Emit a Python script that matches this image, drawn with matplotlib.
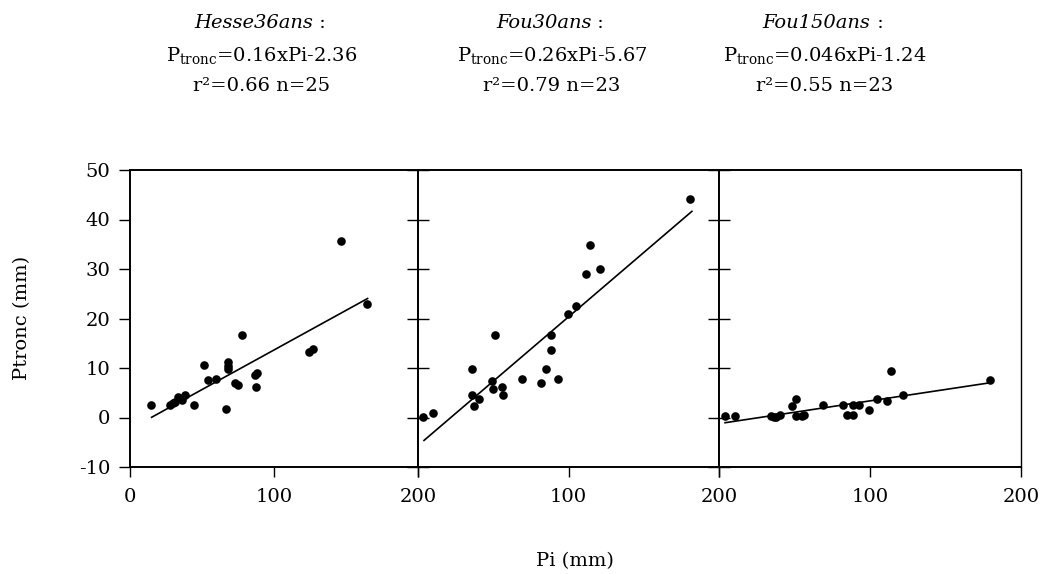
import matplotlib
matplotlib.use("Agg")
import matplotlib.pyplot as plt
import numpy as np

plt.rcParams['font.family'] = ['DejaVu Serif']
plt.rcParams['mathtext.fontset'] = 'dejavuserif'
plt.rcParams['axes.unicode_minus'] = False

# Hesse36ans
pi_hesse = [14.3, 27.6, 29.9, 31.0, 33.3, 36.1, 37.9, 44.6, 51.3, 54.0, 59.8, 66.7,
            67.8, 67.8, 68.2, 73.1, 74.7, 77.7, 86.9, 88.5, 87.4, 124.1, 126.9, 146.4, 164.4]
pt_hesse = [2.6, 2.6, 3.0, 3.2, 4.1, 3.5, 4.6, 2.6, 10.6, 7.5, 7.8, 1.8,
            11.3, 9.8, 10.4, 7.0, 6.6, 16.6, 8.6, 9.0, 6.1, 13.3, 13.8, 35.7, 22.9]

# Fou30ans
pi_fou30 = [3.6, 10.2, 35.6, 35.6, 36.9, 40.7, 49.0, 50.1, 51.4, 55.7, 56.8, 68.8,
            82.0, 84.8, 88.6, 88.6, 92.9, 99.5, 104.9, 111.4, 114.0, 120.7, 180.8]
pt_fou30 = [0.1, 1.0, 9.8, 4.6, 2.3, 3.8, 7.3, 5.7, 16.6, 6.1, 4.6, 7.8,
            7.0, 9.8, 16.6, 13.7, 7.8, 20.9, 22.6, 28.9, 34.9, 30.1, 44.1]

# Fou150ans
pi_fou150 = [3.8, 10.3, 34.7, 36.3, 38.0, 40.2, 48.4, 50.8, 50.8, 55.0, 56.0, 69.2,
             82.4, 84.6, 89.0, 89.0, 93.0, 99.5, 104.8, 111.4, 114.0, 121.9, 179.8]
pt_fou150 = [0.3, 0.3, 0.3, 0.1, 0.1, 0.6, 2.3, 3.8, 0.3, 0.3, 0.6, 2.6,
             2.6, 0.6, 0.6, 2.6, 2.6, 1.5, 3.8, 3.4, 9.4, 4.6, 7.5]

names = ["Hesse36ans", "Fou30ans", "Fou150ans"]
slopes = [0.16, 0.26, 0.046]
intercepts = [-2.36, -5.67, -1.24]
r2 = [0.66, 0.79, 0.55]
n = [25, 23, 23]
fit_range = [(15, 165), (4, 182), (4, 180)]
xs = [pi_hesse, pi_fou30, pi_fou150]
ys = [pt_hesse, pt_fou30, pt_fou150]

fig = plt.figure(figsize=(10.45, 5.74), dpi=100)
W, H = 1045, 574
lefts = [130, 418, 719]
rights = [418, 719, 1021]
bottom = 1 - 467 / H
height = (467 - 170) / H
title_x = [262, 552, 825]

for i in range(3):
    ax = fig.add_axes([lefts[i] / W, bottom, (rights[i] - lefts[i]) / W, height])
    ax.plot(xs[i], ys[i], 'o', color='black', ms=6.2, mew=0)
    x0, x1 = fit_range[i]
    fx = np.array([x0, x1])
    ax.plot(fx, slopes[i] * fx + intercepts[i], color='black', lw=1.2)
    ax.set_xlim(0, 200)
    ax.set_ylim(-10, 50)
    ax.set_xticks([0, 100, 200])
    ax.set_yticks(range(-10, 51, 10))
    if i == 0:
        ax.set_xticklabels(["0", "100", "200"])
        ax.tick_params(axis='y', direction='out', length=8, width=1, labelsize=14, pad=6)
    else:
        ax.set_xticklabels(["", "100", "200"])
        ax.set_yticklabels([])
        ax.tick_params(axis='y', direction='inout', length=16, width=1)
    ax.tick_params(axis='x', direction='out', length=7, width=1, labelsize=14, pad=8)
    for s in ax.spines.values():
        s.set_linewidth(1.4)
        s.set_color('black')
    if i == 2:
        ax.spines['right'].set_linewidth(1.0)

    # title: italic name followed by " :"
    t = fig.text(title_x[i] / W - 0.008, 1 - 23 / H, names[i], style='italic',
                 ha='center', va='center', fontsize=14)
    ax.annotate(" :", xy=(1, 0.5), xycoords=t, ha='left', va='center', fontsize=14)
    fig.text(title_x[i] / W, 1 - 55 / H,
             r"P$_{\mathrm{tronc}}$=" + f"{slopes[i]}xPi{intercepts[i]}",
             ha='center', va='center', fontsize=14)
    fig.text(title_x[i] / W, 1 - 86 / H, f"r²={r2[i]} n={n[i]}",
             ha='center', va='center', fontsize=14)

fig.text(22 / W, 1 - 318 / H, "Ptronc (mm)", rotation=90, ha='center', va='center', fontsize=14)
fig.text(575 / W, 1 - 561 / H, "Pi (mm)", ha='center', va='center', fontsize=14)

fig.savefig("out.png", dpi=100)
